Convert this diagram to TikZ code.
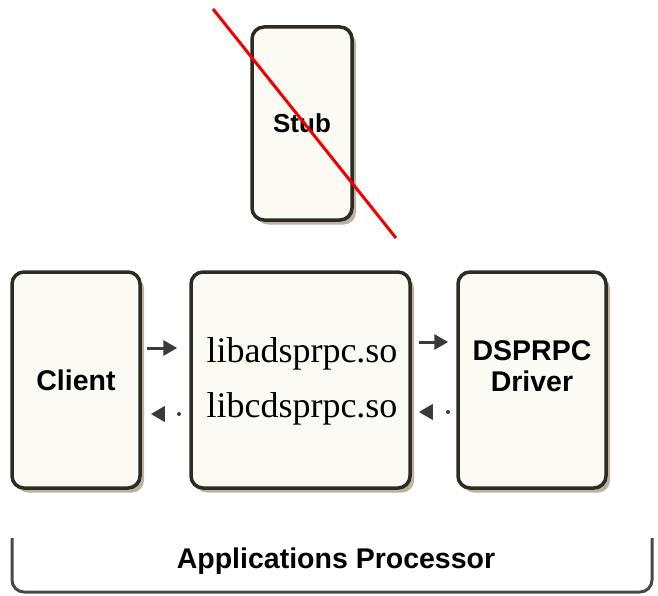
\documentclass[tikz,border=0pt]{standalone}
\usepackage{fontspec}
\setmainfont{Liberation Serif}
\setsansfont{Liberation Sans}
\usetikzlibrary{arrows.meta}

\definecolor{boxline}{HTML}{2E2A24}
\definecolor{boxfill}{HTML}{FBFAF3}
\definecolor{shade}{HTML}{8F7E60}
\definecolor{arrowc}{HTML}{3C3A38}
\definecolor{bracketc}{HTML}{4A4846}
\definecolor{crossc}{HTML}{F00000}

\tikzset{
  unit/.style={draw=boxline, line width=3.5pt, fill=boxfill, rounded corners=12pt,
    inner sep=0pt,
    preaction={fill=shade, opacity=.6, transform canvas={xshift=4pt, yshift=-4.5pt}}},
  sanslabel/.style={font=\sffamily\bfseries\fontsize{28.5}{31}\selectfont, align=center},
  stublabel/.style={font=\sffamily\bfseries\fontsize{26}{30}\selectfont},
  bottomlabel/.style={font=\sffamily\bfseries\fontsize{28.5}{31}\selectfont},
  libtext/.style={font=\fontsize{36}{40}\selectfont, inner sep=0pt, anchor=base},
  flow/.style={arrowc, line width=3pt, -{Triangle[length=14pt,width=15pt]}},
  backflow/.style={flow, line width=3.4pt, line cap=round, dash pattern=on 0.5pt off 40pt},
  crossout/.style={crossc, line width=3pt},
  bracket/.style={bracketc, line width=3pt, rounded corners=12pt}
}

\begin{document}
\begin{tikzpicture}[x=1pt, y=-1pt]
  \useasboundingbox (0,0) rectangle (658,596);

  % processing units
  \node[unit, minimum width=100pt, minimum height=193pt] (stub) at (302,123.5) {};
  \node[stublabel] at (stub.center) {Stub};

  \node[unit, minimum width=128pt, minimum height=216pt] (client) at (76,380) {};
  \node[sanslabel] at (client.center) {Client};

  \node[unit, minimum width=219pt, minimum height=216pt] (lib) at (300.5,380) {};
  \node[libtext] (liba) at (302,362) {libadsprpc.so};
  \node[libtext] (libc) at (302,417) {libcdsprpc.so};

  \node[unit, minimum width=148pt, minimum height=216pt] (driver) at (532,380) {};
  \node[sanslabel] at (532,366) {DSPRPC\\Driver};

  % call and return paths
  \coordinate (callL) at (0,348);
  \coordinate (retL) at (0,414);
  \coordinate (callR) at (0,342);
  \coordinate (retR) at (0,412);

  \draw[flow, shorten <=5pt, shorten >=12pt] (client.east |- callL) -- (lib.west |- callL);
  \draw[backflow, shorten <=10pt, shorten >=9pt] (lib.west |- retL) -- (client.east |- retL);
  \draw[flow, shorten <=7pt, shorten >=8pt] (lib.east |- callR) -- (driver.west |- callR);
  \draw[backflow, shorten <=8pt, shorten >=7pt] (driver.west |- retR) -- (lib.east |- retR);

  % stub is crossed out
  \coordinate (crossA) at (213,9);
  \coordinate (crossB) at (396,238);
  \draw[crossout] (crossA) -- (crossB);

  % applications processor bracket
  \coordinate (brA) at (12,538);
  \coordinate (brB) at (12,592);
  \coordinate (brC) at (652,592);
  \coordinate (brD) at (652,538);
  \draw[bracket] (brA) -- (brB) -- (brC) -- (brD);
  \node[bottomlabel] (ap) at (336,561) {Applications Processor};
\end{tikzpicture}
\end{document}
